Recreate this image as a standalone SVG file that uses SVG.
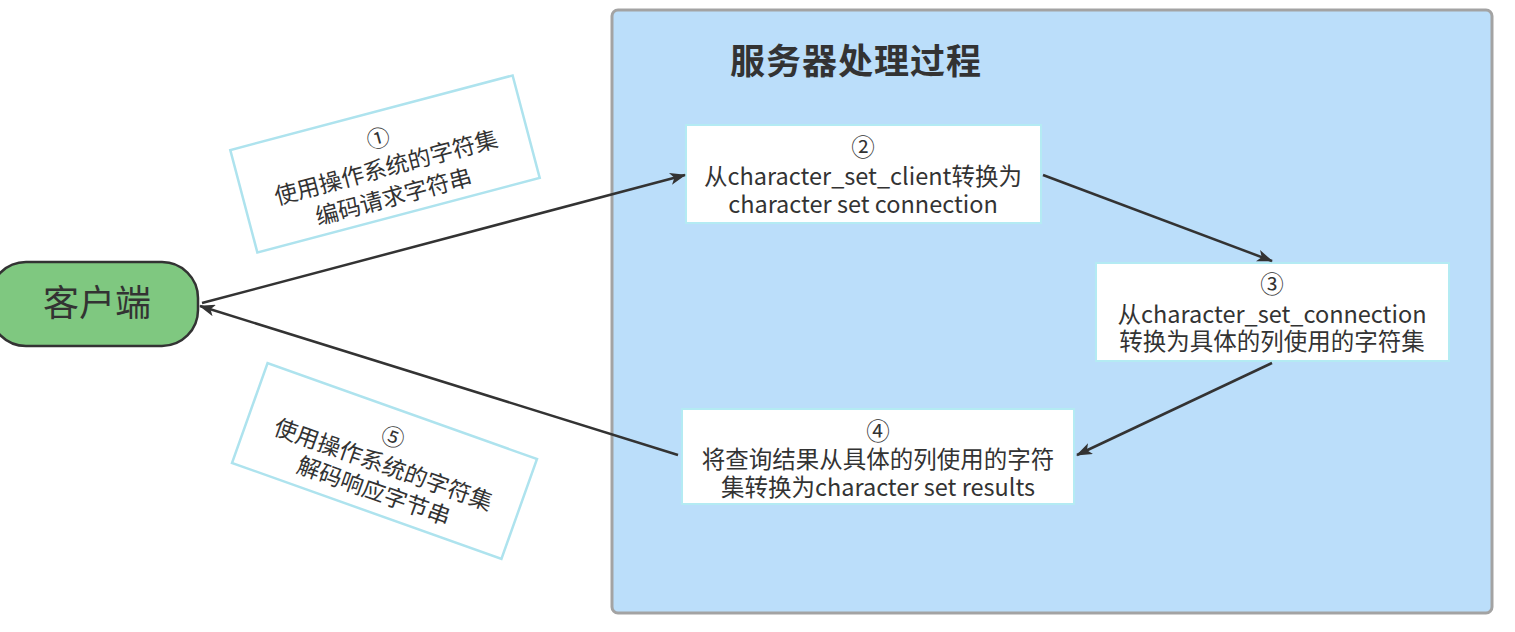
<svg xmlns="http://www.w3.org/2000/svg" width="1515" height="632" viewBox="0 0 1515 632">
<defs>
<style>
.t{font-family:"Noto Sans CJK SC","Noto Sans",sans-serif;fill:#333;text-anchor:middle;}
.box{fill:#fff;stroke:#b4ebf3;stroke-width:2;}
.note{fill:#fff;stroke:#aee3ee;stroke-width:2.5;}
.edge{stroke:#333;stroke-width:2.5;fill:none;}
</style>
<marker id="ah" viewBox="0 0 16 12" refX="15" refY="6" markerWidth="16" markerHeight="12" markerUnits="userSpaceOnUse" orient="auto">
<path d="M0,0 L16,6 L0,12 L4,6 Z" fill="#333"/>
</marker>
</defs>
<rect width="1515" height="632" fill="#fff"/>
<g id="server">
<rect x="612" y="10" width="880" height="603" rx="6" fill="#bbdefa" stroke="#a3a3a3" stroke-width="3"/>
<text class="t" x="856" y="74" font-size="35" font-weight="bold" style="letter-spacing:1px">服务器处理过程</text>
</g>
<g id="client">
<rect x="-10" y="262" width="208" height="84" rx="36" fill="#7fc880" stroke="#333" stroke-width="2.5"/>
<text class="t" x="97" y="316" font-size="36">客户端</text>
</g>
<g id="note1" transform="translate(385,164) rotate(-14.8)">
<rect class="note" x="-146" y="-53" width="292" height="106"/>
<text class="t" font-size="23"><tspan x="0" y="-18">①</tspan><tspan x="0" y="12">使用操作系统的字符集</tspan><tspan x="0" y="42">编码请求字符串</tspan></text>
</g>
<g id="note5" transform="translate(384.5,461) rotate(19.6)">
<rect class="note" x="-143" y="-53" width="286" height="106"/>
<text class="t" font-size="23"><tspan x="0" y="-17">⑤</tspan><tspan x="0" y="12">使用操作系统的字符集</tspan><tspan x="0" y="40">解码响应字节串</tspan></text>
</g>
<g id="step2">
<rect class="box" x="686" y="125" width="355" height="98"/>
<text class="t" font-size="23.5"><tspan x="863" y="156">②</tspan><tspan x="863" y="185">从character_set_client转换为</tspan><tspan x="863" y="213">character set connection</tspan></text>
</g>
<g id="step3">
<rect class="box" x="1096" y="263" width="353" height="98"/>
<text class="t" font-size="23.5"><tspan x="1272" y="293">③</tspan><tspan x="1272" y="323">从character_set_connection</tspan><tspan x="1272" y="350">转换为具体的列使用的字符集</tspan></text>
</g>
<g id="step4">
<rect class="box" x="682" y="409" width="392" height="95"/>
<text class="t" font-size="23.5"><tspan x="878" y="440">④</tspan><tspan x="878" y="468">将查询结果从具体的列使用的字符</tspan><tspan x="878" y="496">集转换为character set results</tspan></text>
</g>
<g id="connectors">
<line class="edge" x1="202" y1="303" x2="685" y2="175" marker-end="url(#ah)"/>
<line class="edge" x1="1043" y1="175" x2="1272" y2="261" marker-end="url(#ah)"/>
<line class="edge" x1="1272" y1="363" x2="1077" y2="455" marker-end="url(#ah)"/>
<line class="edge" x1="678" y1="455" x2="200" y2="306" marker-end="url(#ah)"/>
</g>
</svg>
